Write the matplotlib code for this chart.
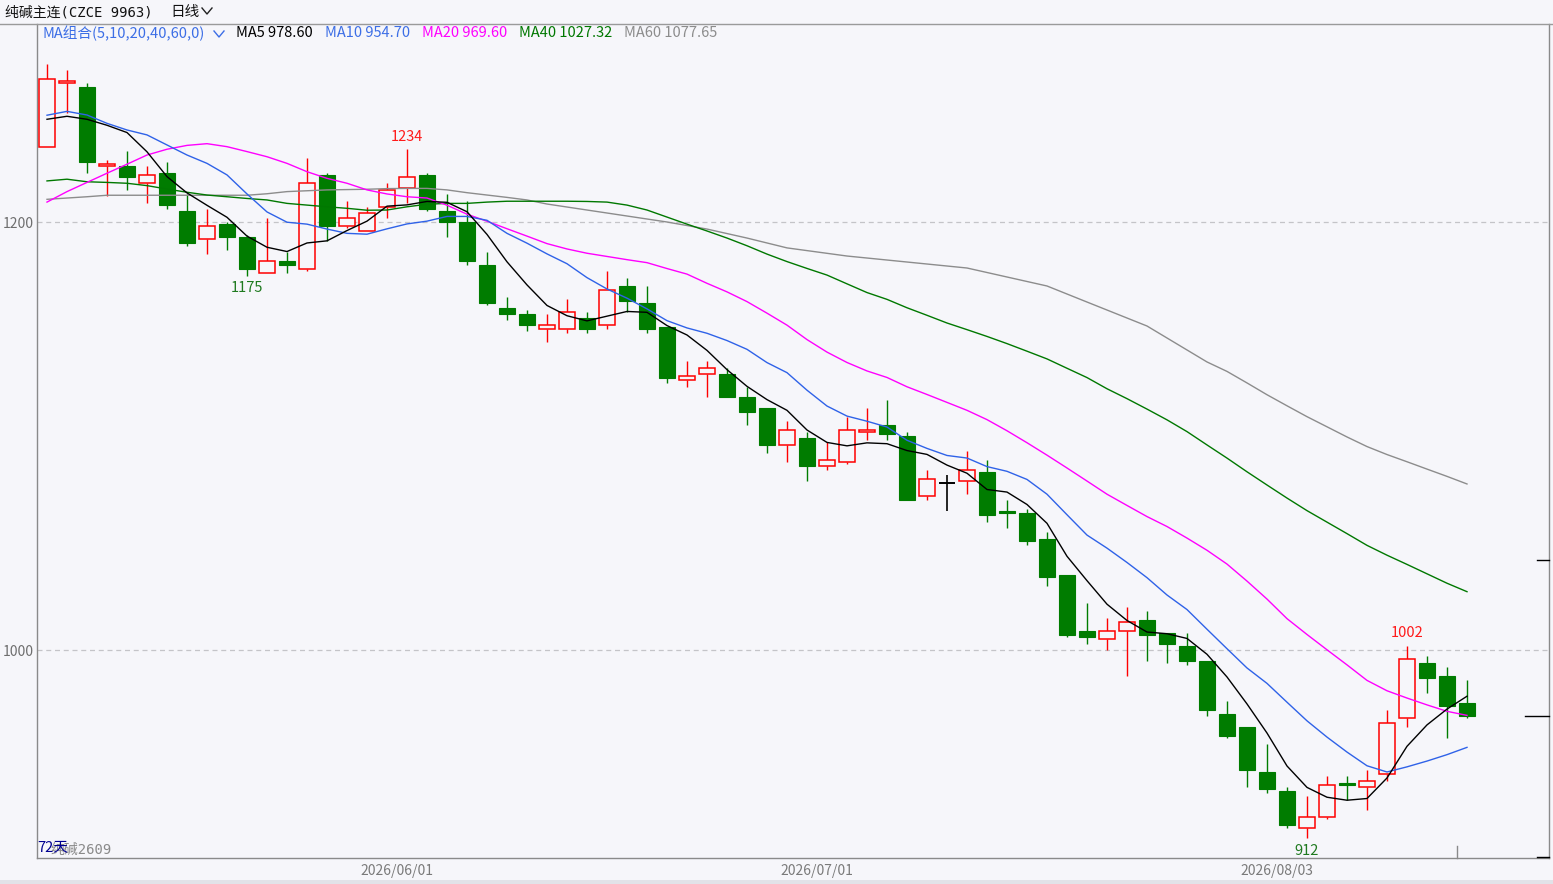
import numpy as np
import pandas as pd
import matplotlib
matplotlib.use("Agg")
import matplotlib.pyplot as plt
from matplotlib.lines import Line2D

# daily bars, 纯碱主连
opens = [1235, 1265, 1263, 1226, 1226, 1218, 1223, 1205, 1192, 1199,
         1193, 1176, 1182, 1178, 1222, 1198, 1196, 1207, 1216, 1222,
         1205, 1200, 1180, 1160, 1157, 1150, 1150, 1155, 1152, 1170,
         1162, 1151, 1126, 1129, 1129, 1118, 1113, 1096, 1099, 1086,
         1088, 1102, 1105, 1100, 1072, 1078, 1079, 1083, 1065, 1064,
         1052, 1035, 1009, 1005, 1009, 1014, 1008, 1002, 995, 970,
         964, 943, 934, 917, 922, 938, 936, 942, 968, 994,
         988, 975]
highs = [1274, 1271, 1265, 1229, 1233, 1226, 1228, 1213, 1206, 1200,
         1194, 1202, 1186, 1230, 1223, 1210, 1207, 1218, 1234, 1223,
         1213, 1210, 1186, 1165, 1159, 1157, 1164, 1158, 1177, 1174,
         1170, 1151, 1135, 1135, 1132, 1123, 1113, 1107, 1102, 1097,
         1109, 1113, 1117, 1102, 1084, 1082, 1093, 1089, 1070, 1066,
         1055, 1035, 1022, 1015, 1020, 1018, 1008, 1008, 995, 976,
         964, 956, 936, 932, 941, 941, 944, 972, 1002, 997,
         992, 986]
lows = [1235, 1251, 1223, 1212, 1215, 1209, 1206, 1189, 1185, 1187,
        1175, 1176, 1176, 1177, 1191, 1197, 1196, 1202, 1209, 1205,
        1193, 1180, 1161, 1154, 1149, 1144, 1148, 1148, 1150, 1158,
        1148, 1125, 1123, 1118, 1118, 1105, 1092, 1088, 1079, 1084,
        1087, 1098, 1098, 1070, 1070, 1065, 1073, 1060, 1057, 1049,
        1030, 1006, 1003, 1000, 988, 995, 994, 993, 969, 959,
        936, 933, 917, 912, 921, 930, 925, 939, 964, 980,
        959, 968]
closes = [1267, 1266, 1228, 1227, 1221, 1222, 1208, 1190, 1198, 1193,
          1178, 1182, 1180, 1218, 1198, 1202, 1204, 1215, 1221, 1206,
          1200, 1182, 1162, 1157, 1152, 1152, 1158, 1150, 1168, 1163,
          1150, 1127, 1128, 1132, 1118, 1111, 1096, 1103, 1086, 1089,
          1103, 1103, 1101, 1070, 1080, 1078, 1084, 1063, 1064, 1051,
          1034, 1007, 1006, 1009, 1013, 1007, 1003, 995, 972, 960,
          944, 935, 918, 922, 937, 937, 939, 966, 996, 987,
          974, 969]

# MA values for the bars whose window reaches before bar 0
ma5_head = [1248.0, 1249.4, 1248.0, 1245.2]
ma10_head = [1249.9, 1251.7, 1250.0, 1246.1, 1243.0, 1240.7, 1236.0, 1231.3, 1227.4]
ma20_head = [1209.3, 1214.2, 1218.5, 1222.8, 1227.0, 1231.3, 1234.0, 1235.8, 1236.6, 1235.2,
             1232.9, 1230.5, 1227.4, 1223.5, 1220.4, 1218.1, 1215.0, 1213.1, 1211.8]
ma40_head = [1219.2, 1220.0, 1218.8, 1218.5, 1218.1, 1217.0, 1215.4, 1213.9, 1212.6, 1211.8,
             1211.0, 1210.3, 1208.7, 1207.9, 1207.1, 1206.4, 1205.5, 1205.6, 1207.1, 1208.3,
             1208.7, 1208.7, 1209.3, 1209.7, 1209.7, 1209.7, 1209.7, 1209.6, 1209.3, 1207.9,
             1205.6, 1202.3, 1199.0, 1195.8, 1192.5, 1188.9, 1185.0, 1181.5, 1178.3]
ma60_head_idx = [0, 2, 3, 10, 11, 12, 13, 14, 16, 17, 18, 19, 20, 21, 22, 23, 24, 25,
                 27, 29, 31, 33, 35, 37, 40, 43, 46, 48, 50, 52, 55, 58]
ma60_head_val = [1210.6, 1211.8, 1212.5, 1212.5, 1213.2, 1214.2, 1214.6, 1215.0, 1215.3, 1215.6,
                 1215.7, 1215.7, 1215.0, 1213.7, 1212.6, 1211.5, 1210.3, 1208.4,
                 1205.6, 1202.8, 1200.0, 1196.7, 1192.5, 1187.9, 1184.1, 1181.3, 1178.5,
                 1174.3, 1170.1, 1162.6, 1151.4, 1134.6]

ma_legend = ["MA5 978.60", "MA10 954.70", "MA20 969.60", "MA40 1027.32", "MA60 1077.65"]

# extreme marks shown on the chart
mark_idx = [18, 10, 63, 68]
mark_val = [1234, 1175, 912, 1002]
mark_high = [True, False, False, True]

y_levels = [1200, 1000]
tick_labels = ["2026/06/01", "2026/07/01", "2026/08/03"]
tick_idx = [18, 39, 62]

W, H = 1553, 884
BG = "#f6f6fa"
UP = "#ff0000"
DOWN = "#007c00"
cjk = ["Noto Sans CJK SC", "DejaVu Sans"]
mono = ["DejaVu Sans Mono", "Noto Sans CJK SC"]

fig = plt.figure(figsize=(W / 100, H / 100), dpi=100, facecolor=BG)
ax = fig.add_axes([37 / W, (H - 858) / H, (1549 - 37) / W, (858 - 24) / H])
ax.set_facecolor(BG)

n = len(closes)
x = np.arange(n)
o = np.array(opens, float)
c = np.array(closes, float)
hi = np.array(highs, float)
lo = np.array(lows, float)

bw = 0.82
for i in range(n):
    top = max(o[i], c[i])
    bot = min(o[i], c[i])
    if c[i] > o[i]:
        col = UP
        ax.vlines(x[i], top, hi[i], color=col, lw=1.0, zorder=2)
        ax.vlines(x[i], lo[i], bot, color=col, lw=1.0, zorder=2)
        ax.bar(x[i], top - bot, bw, bottom=bot, facecolor=BG, edgecolor=col, lw=1.1, zorder=3)
    elif c[i] < o[i]:
        col = DOWN
        ax.vlines(x[i], lo[i], hi[i], color=col, lw=1.0, zorder=2)
        ax.bar(x[i], top - bot, bw, bottom=bot, facecolor=col, edgecolor=col, lw=0.8, zorder=3)
    else:
        ax.vlines(x[i], lo[i], hi[i], color="black", lw=1.2, zorder=2)
        ax.hlines(c[i], x[i] - bw / 2, x[i] + bw / 2, color="black", lw=1.4, zorder=3)

s = pd.Series(closes, dtype=float)


def ma_line(win, head_idx, head_val):
    tail = s.rolling(win).mean()
    xs = list(head_idx) + list(range(win - 1, n))
    ys = list(head_val) + list(tail.iloc[win - 1:])
    return xs, ys


ma_specs = [
    (60, ma60_head_idx, ma60_head_val, "#8c8c8c"),
    (40, list(range(len(ma40_head))), ma40_head, "#007800"),
    (20, list(range(len(ma20_head))), ma20_head, "#ff00ff"),
    (10, list(range(len(ma10_head))), ma10_head, "#2f62e8"),
    (5, list(range(len(ma5_head))), ma5_head, "#000000"),
]
for win, hidx, hval, col in ma_specs:
    xs, ys = ma_line(win, hidx, hval)
    ax.plot(xs, ys, color=col, lw=1.0, zorder=4)

ax.set_xlim(-0.5, (1549 - 47) / 20)
ax.set_ylim(1200 - (858 - 222) / 2.14, 1200 + (222 - 24) / 2.14)

for lv in y_levels:
    ax.axhline(lv, color="#c4c4c8", lw=0.9, ls=(0, (4, 3)), zorder=1)
ax.set_yticks(y_levels)
ax.set_yticklabels([str(v) for v in y_levels], fontsize=10, color="#6e6e6e", family=cjk)
ax.tick_params(axis="y", length=0, pad=2)

for mi, mv, mh in zip(mark_idx, mark_val, mark_high):
    ax.annotate(str(mv), (mi, mv), xytext=(0, 9 if mh else -9), textcoords="offset points",
                ha="center", va="center", fontsize=10.5, family=cjk,
                color="#ff1a1a" if mh else "#1f7a1f", zorder=6)

ax.set_xticks([t - 0.5 for t in tick_idx])
ax.set_xticklabels(tick_labels, fontsize=10, color="#7a7a7a", family=cjk)
ax.tick_params(axis="x", length=0, pad=4)
for side in ["left", "bottom", "right"]:
    ax.spines[side].set_color("#8a8a8a")
    ax.spines[side].set_linewidth(1.0)
ax.spines["top"].set_visible(False)

# right side markers and small tick near the last bar
for yy, x0 in [(560, 1537), (716, 1525), (857, 1537)]:
    fig.add_artist(Line2D([x0 / W, 1549 / W], [1 - yy / H, 1 - yy / H], color="black", lw=1.0))
fig.add_artist(Line2D([1457 / W, 1457 / W], [1 - 846 / H, 1 - 858 / H], color="#8a8a8a", lw=1.0))

# header line and bottom strip
fig.add_artist(Line2D([0, 1], [1 - 24 / H, 1 - 24 / H], color="#9a9a9a", lw=1.0))
fig.add_artist(plt.Rectangle((0, 0), 1, 4 / H, transform=fig.transFigure, color="#e2e2e8", lw=0))


def ftext(px, py, s_, **kw):
    fig.text(px / W, 1 - py / H, s_, va="center", ha="left", **kw)


ftext(5, 12, "纯碱主连(CZCE 9963)", fontsize=10, color="#111111", family=mono)
ftext(170, 12, "日线", fontsize=10.5, color="#111111", family=cjk)
fig.add_artist(Line2D([202 / W, 207 / W, 212 / W], [1 - 8 / H, 1 - 14 / H, 1 - 8 / H], color="#222222", lw=1.0))

ftext(42, 33, "MA组合(5,10,20,40,60,0)", fontsize=10.5, color="#3c6ee6", family=cjk)
fig.add_artist(Line2D([214 / W, 219 / W, 224 / W], [1 - 31 / H, 1 - 37 / H, 1 - 31 / H], color="#3c6ee6", lw=1.0))
legend_x = [236, 325, 422, 519, 624]
legend_col = ["#000000", "#3c6ee6", "#ff00ff", "#007800", "#8c8c8c"]
for lx, lt, lc in zip(legend_x, ma_legend, legend_col):
    ftext(lx, 33, lt, fontsize=10.5, color=lc, family=cjk)

# bar count and contract name overlap in the original too
ftext(50, 850, "纯碱2609", fontsize=10, color="#8a8a8a", family=mono)
ftext(37, 847, "72天", fontsize=10.5, color="#000090", family=cjk)

fig.savefig("out.png", dpi=100, facecolor=BG)
